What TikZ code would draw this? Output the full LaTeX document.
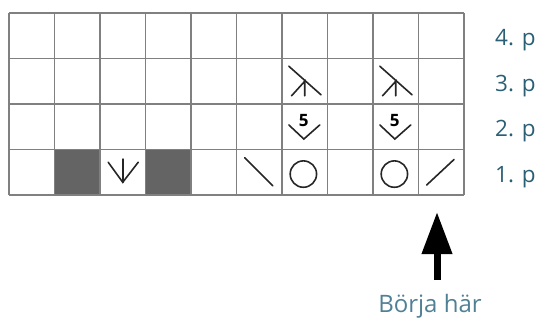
\documentclass[tikz,border=0pt]{standalone}
\usepackage{fontspec}
\setmainfont{Open Sans}
\usepackage{tikz}
\usetikzlibrary{arrows.meta}
\usepackage{xcolor}

\definecolor{rowteal}{HTML}{2B5F75}
\definecolor{startteal}{HTML}{4F8094}
\definecolor{gridgray}{HTML}{808080}
\definecolor{darkcell}{HTML}{646464}

\tikzset{
  gridline/.style={gridgray, line width=1.9pt},
  darkbox/.style={fill=darkcell, draw=gray!80!black, line width=1.4pt},
  sym/.style={black!85, line width=1.6pt, line cap=round},
  rowlabel/.style={rowteal, font=\fontsize{22.5}{24}\selectfont, anchor=base west, inner sep=0pt},
}

\begin{document}
\begin{tikzpicture}[x=1pt, y=-1pt]
\useasboundingbox (0,0) rectangle (546,327);

% Chart: 10 stitches x 4 rows, one unit = one cell
\begin{scope}[shift={(9,13)}, x=45.5pt, y=-45.5pt]
  % Dark cells (no stitch)
  \draw[darkbox] (1,3) rectangle (2,4);
  \draw[darkbox] (3,3) rectangle (4,4);

  % Grid
  \foreach \i in {0,...,10} \draw[gridline] (\i,0) -- (\i,4);
  \foreach \j in {0,...,4} \draw[gridline] (0,\j) -- (10,\j);

  % Row 1
  \draw[sym] (2.18,3.28) -- (2.5,3.72) -- (2.84,3.28);
  \draw[sym] (2.5,3.21) -- (2.5,3.72);
  \draw[sym] (5.18,3.18) -- (5.8,3.8);
  \draw[sym] (6.47,3.54) circle (0.29);
  \draw[sym] (8.47,3.54) circle (0.29);
  \draw[sym] (9.18,3.78) -- (9.78,3.22);

  % Row 2
  \foreach \c in {6,8} {
    \draw[sym] (\c+0.15,2.46) -- (\c+0.48,2.77) -- (\c+0.83,2.46);
    \node[font=\fontsize{17}{17}\selectfont\bfseries, inner sep=0pt] at (\c+0.48,2.36) {5};
  }

  % Row 3
  \foreach \c in {6,8} {
    \draw[sym] (\c+0.15,1.17) -- (\c+0.86,1.8);
    \draw[sym] (\c+0.21,1.82) -- (\c+0.5,1.5) -- (\c+0.5,1.82);
  }
\end{scope}

% Row labels
\node[rowlabel] (r4) at (495,45) {4. p};
\node[rowlabel] (r3) at (495,91) {3. p};
\node[rowlabel] (r2) at (495,136) {2. p};
\node[rowlabel] (r1) at (495,182) {1. p};

% Start arrow
\node[startteal, font=\fontsize{24}{26}\selectfont, inner sep=0pt] (start) at (430,306) {Börja här};
\coordinate (tail) at (437,280);
\coordinate (tip) at (437,212);
\draw[black, line width=7pt, -{Triangle[length=42pt, width=29pt]}] (tail) -- (tip);
\end{tikzpicture}
\end{document}
